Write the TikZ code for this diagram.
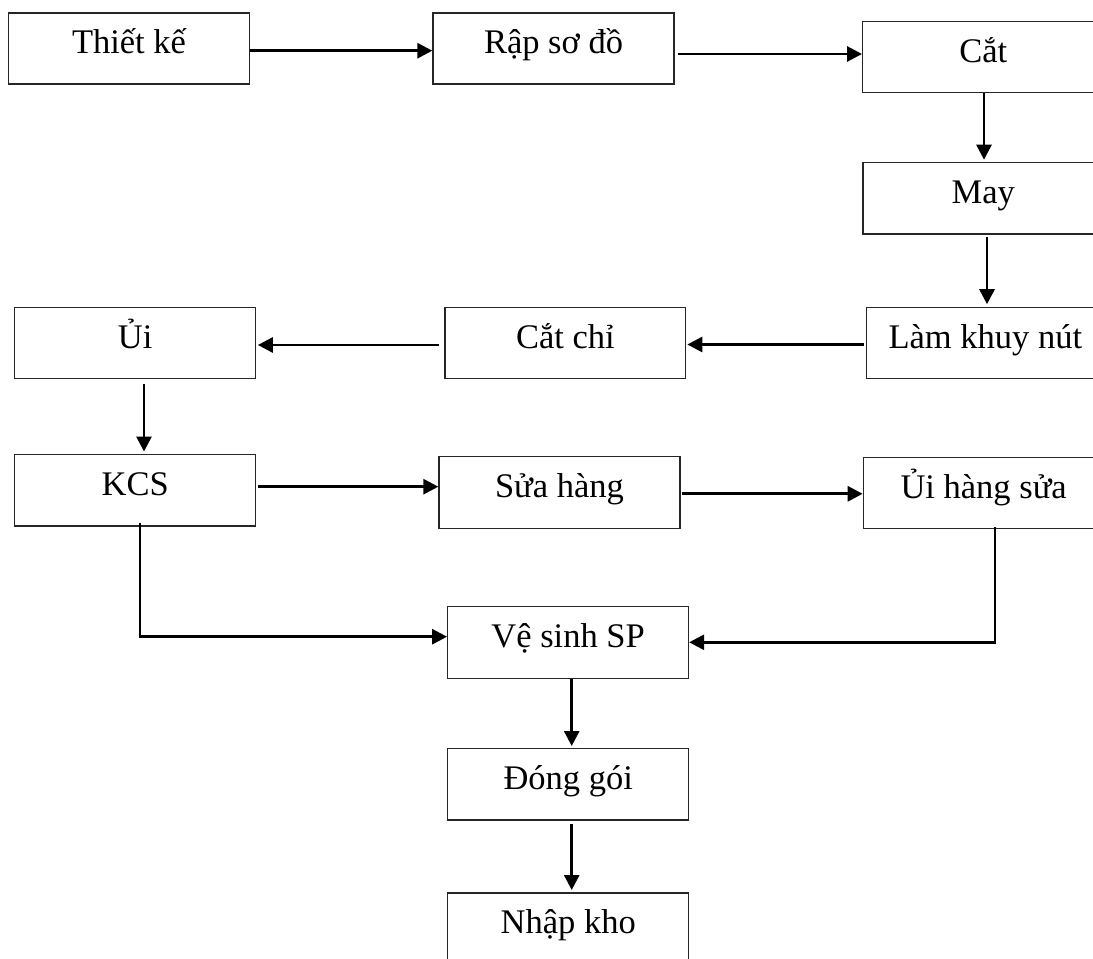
\documentclass[tikz,border=0pt]{standalone}
\usepackage{fontspec}
\setmainfont{Liberation Serif}
\usetikzlibrary{arrows.meta}
\begin{document}
\begin{tikzpicture}[x=1pt,y=-1pt,
  stepbox/.style={draw=black!85, line width=1.3pt, rectangle, inner sep=0pt,
    anchor=north, text height=41pt, text depth=30pt,
    font=\fontsize{34.5}{40}\selectfont},
  arr/.style={line width=2.8pt, line join=miter, -{Triangle[length=15pt,width=15pt]}}]
\useasboundingbox (0,0) rectangle (1093,959);
\clip (0,0) rectangle (1093,959);
% nodes
\node[stepbox, minimum width=241.4pt] (thiet) at (129,12.3) {Thiết kế};
\node[stepbox, minimum width=241pt] (rap) at (553.5,12.3) {Rập sơ đồ};
\node[stepbox, minimum width=241.3pt] (cat) at (983.35,20.7) {Cắt};
\node[stepbox, minimum width=241pt, text depth=30.6pt] (may) at (983.35,161.7) {May};
\node[stepbox, minimum width=237.3pt, text depth=30.3pt] (lam) at (985.35,306.7) {Làm khuy nút};
\node[stepbox, minimum width=240.7pt, text depth=30.3pt] (catchi) at (565.35,306.7) {Cắt chỉ};
\node[stepbox, minimum width=241pt, text depth=30.3pt] (ui) at (135.2,306.7) {Ủi};
\node[stepbox, minimum width=241pt, text depth=30.3pt] (kcs) at (135.2,454) {KCS};
\node[stepbox, minimum width=241pt, text depth=31pt] (sua) at (559.5,456) {Sửa hàng};
\node[stepbox, minimum width=240.7pt, text depth=30.3pt] (uihs) at (983.65,456.7) {Ủi hàng sửa};
\node[stepbox, minimum width=240.8pt, text depth=31pt] (vesinh) at (568.1,606) {Vệ sinh SP};
\node[stepbox, minimum width=241pt, text depth=30.3pt] (donggoi) at (568.2,748) {Đóng gói};
\node[stepbox, minimum width=241pt] (nhapkho) at (568.2,892.3) {Nhập kho};
% connectors
\draw[arr] (thiet.east |- 0,50.7) -- (rap.west |- 0,50.7);
\draw[arr, shorten <=3pt] (rap.east |- 0,54) -- (cat.west |- 0,54);
\draw[arr, shorten >=2pt] (cat.south -| 984,0) -- (may.north -| 984,0);
\draw[arr, shorten <=2.5pt, shorten >=2.5pt] (may.south -| 987,0) -- (lam.north -| 987,0);
\draw[arr, shorten <=2.5pt, shorten >=1pt] (lam.west |- 0,344.5) -- (catchi.east |- 0,344.5);
\draw[arr, shorten <=5pt, shorten >=1.5pt] (catchi.west |- 0,345) -- (ui.east |- 0,345);
\draw[arr, shorten <=5pt, shorten >=2.5pt] (ui.south -| 144,0) -- (kcs.north -| 144,0);
\draw[arr, shorten <=2pt] (kcs.east |- 0,486.7) -- (sua.west |- 0,486.7);
\draw[arr, shorten <=1pt] (sua.east |- 0,493.8) -- (uihs.west |- 0,493.8);
\draw[arr, shorten <=-4pt] (kcs.south -| 140,0) |- (vesinh.west |- 0,636.7);
\draw[arr, shorten <=-2pt] (uihs.south -| 995,0) |- (vesinh.east |- 0,642.3);
\draw[arr, shorten >=2pt] (vesinh.south -| 571.7,0) -- (donggoi.north -| 571.7,0);
\draw[arr, shorten <=3pt, shorten >=2.3pt] (donggoi.south -| 571.7,0) -- (nhapkho.north -| 571.7,0);
\end{tikzpicture}
\end{document}
